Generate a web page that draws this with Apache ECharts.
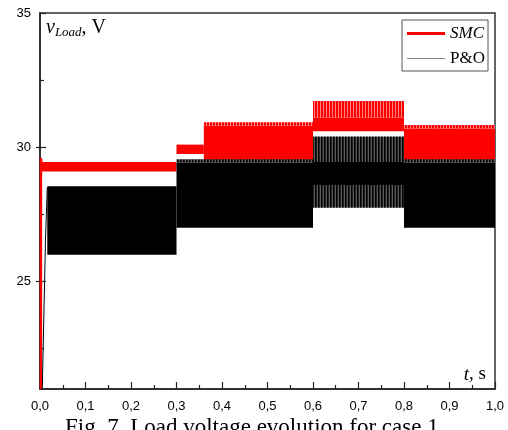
<!DOCTYPE html>
<html><head><meta charset="utf-8">
<script src="https://cdn.jsdelivr.net/npm/echarts@6/dist/echarts.min.js"></script>
<style>html,body{margin:0;padding:0;background:#fff}#c{width:508px;height:430px}</style>
</head><body><div id="c"></div>
<script>
// ---- data ----
const yLabelValues = [25, 30, 35];
const yOutTickValues = [25, 30];
const yMinorValues = [22.5, 27.5, 32.5];

// SMC start-up transient (t, v)
const smcStartT = [0.002, 0.002, 0.004];
const smcStartV = [21.0, 29.6, 29.3];
// SMC oscillation envelopes per regime
const smcStart = [0.004, 0.300, 0.360, 0.600, 0.800];
const smcEnd   = [0.300, 0.360, 0.600, 0.800, 1.000];
const smcLow   = [29.10, 29.75, 29.50, 30.60, 29.50];
const smcHigh  = [29.45, 30.10, 30.80, 31.10, 30.70];
// SMC spiky tops
const smcSpikeStart = [0.360, 0.600, 0.800];
const smcSpikeEnd   = [0.600, 0.800, 1.000];
const smcSpikeLow   = [30.80, 31.10, 30.70];
const smcSpikeHigh  = [30.93, 31.72, 30.83];

// P&O start-up transient
const poStartT = [0.005, 0.012, 0.016];
const poStartV = [21.0, 26.5, 28.5];
// P&O dense envelopes
const poStart = [0.016, 0.300, 0.600, 0.800];
const poEnd   = [0.300, 0.600, 0.800, 1.000];
const poLow   = [26.00, 27.00, 28.60, 27.00];
const poHigh  = [28.55, 29.42, 29.45, 29.42];
// P&O sparser envelope parts
const poGrayStart = [0.300, 0.600, 0.600, 0.800];
const poGrayEnd   = [0.600, 0.800, 0.800, 1.000];
const poGrayLow   = [29.42, 29.45, 27.75, 29.42];
const poGrayHigh  = [29.55, 30.40, 28.60, 29.55];

// ---- helpers ----
function zip4(a, b, c, d) { return a.map((v, i) => [v, b[i], c[i], d[i]]); }
function zip2(a, b) { return a.map((v, i) => [v, b[i]]); }
function stripes(cols, w) {
  const c = document.createElement('canvas');
  c.width = cols.length * w; c.height = 4;
  const g = c.getContext('2d');
  cols.forEach((col, i) => { g.fillStyle = col; g.fillRect(i * w, 0, w, 4); });
  return { image: c, repeat: 'repeat' };
}
function band(fill) {
  return function (params, api) {
    const p0 = api.coord([api.value(0), api.value(3)]);
    const p1 = api.coord([api.value(1), api.value(2)]);
    return { type: 'rect', shape: { x: p0[0], y: p0[1], width: p1[0] - p0[0], height: p1[1] - p0[1] }, style: { fill: fill } };
  };
}
const redSpike = stripes(['#ff0000', '#ff0000', '#ff8080'], 1);
const graySpike = stripes(['#000000', '#222222', '#5a5a5a'], 1);

const chart = echarts.init(document.getElementById('c'), null, { renderer: 'canvas' });
const serif = 'Liberation Serif, Times New Roman, serif';
const sans = 'Liberation Sans, Arial, sans-serif';
const tickStyle = { color: '#222', width: 1.2 };

chart.setOption({
  animation: false,
  backgroundColor: '#fff',
  grid: { left: 40, right: 13, top: 13, bottom: 41, show: true, borderColor: '#333', borderWidth: 1.5, backgroundColor: 'transparent' },
  xAxis: {
    type: 'value', min: 0, max: 1, interval: 0.1,
    axisLine: { onZero: false, lineStyle: { color: '#222', width: 1.5 } },
    axisTick: { inside: true, length: 7, lineStyle: tickStyle },
    minorTick: { show: true, splitNumber: 2, length: 4, lineStyle: tickStyle },
    axisLabel: { margin: 11, color: '#000', fontFamily: sans, fontSize: 13, formatter: v => v.toFixed(1).replace('.', ',') },
    splitLine: { show: false }
  },
  yAxis: [{
    type: 'value', min: 21, max: 35,
    axisLine: { onZero: false, lineStyle: { color: '#222', width: 1.5 } },
    axisTick: { inside: true, length: 6, customValues: yLabelValues, lineStyle: tickStyle },
    axisLabel: { customValues: yLabelValues, margin: 9, color: '#000', fontFamily: sans, fontSize: 13 },
    splitLine: { show: false }
  }, {
    type: 'value', min: 21, max: 35, position: 'left',
    axisLine: { show: false },
    axisTick: { show: true, inside: true, length: 4, customValues: yMinorValues, lineStyle: tickStyle },
    axisLabel: { show: false },
    splitLine: { show: false }
  }, {
    type: 'value', min: 21, max: 35, position: 'left',
    axisLine: { show: false },
    axisTick: { show: true, inside: false, length: 4, customValues: yOutTickValues, lineStyle: tickStyle },
    axisLabel: { show: false },
    splitLine: { show: false }
  }],
  legend: {
    data: [
      { name: 'SMC', icon: 'path://M0,0 M0,5.5 L40,5.5 L40,8.5 L0,8.5 Z M40,14', itemStyle: { color: '#ff0000' } },
      { name: 'P&O', icon: 'path://M0,0 M0,6.5 L40,6.5 L40,7.5 L0,7.5 Z M40,14', itemStyle: { color: '#8a8a8a' } }
    ],
    orient: 'vertical', right: 20, top: 20,
    itemWidth: 38, itemHeight: 14, itemGap: 8,
    borderColor: '#555', borderWidth: 1, borderRadius: 0, padding: [5, 3, 4, 5],
    backgroundColor: '#fff',
    formatter: n => n === 'SMC' ? '{i|SMC}' : '{n|P&O}',
    textStyle: {
      color: '#000', fontFamily: serif, fontSize: 17,
      rich: { i: { fontStyle: 'italic', fontFamily: serif, fontSize: 17, color: '#000' }, n: { fontFamily: serif, fontSize: 17, color: '#000' } }
    },
    selectedMode: false
  },
  series: [
    { type: 'custom', name: 'smcBand', renderItem: band('#ff0000'), encode: { x: [0, 1], y: [2, 3] }, data: zip4(smcStart, smcEnd, smcLow, smcHigh), clip: true, silent: true },
    { type: 'custom', name: 'smcSpike', renderItem: band(redSpike), encode: { x: [0, 1], y: [2, 3] }, data: zip4(smcSpikeStart, smcSpikeEnd, smcSpikeLow, smcSpikeHigh), clip: true, silent: true },
    { type: 'line', name: 'SMC', data: zip2(smcStartT, smcStartV), symbol: 'none', lineStyle: { color: '#ff0000', width: 2.5 }, itemStyle: { color: '#ff0000' } },
    { type: 'custom', name: 'poGray', renderItem: band(graySpike), encode: { x: [0, 1], y: [2, 3] }, data: zip4(poGrayStart, poGrayEnd, poGrayLow, poGrayHigh), clip: true, silent: true },
    { type: 'custom', name: 'poBand', renderItem: band('#000000'), encode: { x: [0, 1], y: [2, 3] }, data: zip4(poStart, poEnd, poLow, poHigh), clip: true, silent: true },
    { type: 'line', name: 'P&O', data: zip2(poStartT, poStartV), symbol: 'none', lineStyle: { color: '#000', width: 1 }, itemStyle: { color: '#000' } }
  ],
  graphic: [
    { type: 'text', left: 46, top: 18, style: { text: '{v|v}{s|Load}{n|, V}', rich: {
      v: { fontFamily: serif, fontStyle: 'italic', fontSize: 20, fill: '#000' },
      s: { fontFamily: serif, fontStyle: 'italic', fontSize: 13, fill: '#000', padding: [9, 0, 0, 0] },
      n: { fontFamily: serif, fontSize: 20, fill: '#000' } } } },
    { type: 'text', right: 22, top: 365, style: { text: '{t|t}{n|, s}', rich: {
      t: { fontFamily: serif, fontStyle: 'italic', fontSize: 19, fill: '#000' },
      n: { fontFamily: serif, fontSize: 19, fill: '#000' } } } },
    { type: 'text', left: 65, top: 416, style: { text: 'Fig. 7. Load voltage evolution for case 1.', fontFamily: serif, fontSize: 23, fill: '#000' } }
  ]
});
</script>
</body></html>
